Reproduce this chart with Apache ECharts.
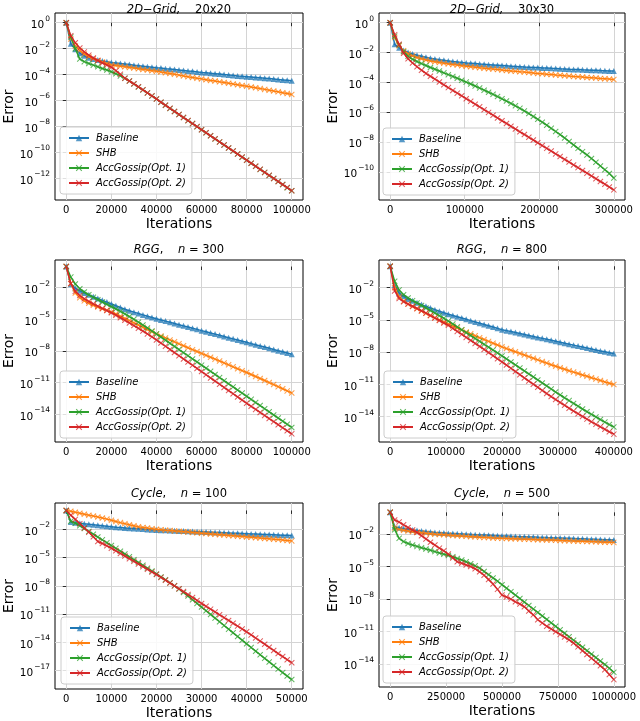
<!DOCTYPE html>
<html><head><meta charset="utf-8">
<script src="https://cdn.jsdelivr.net/npm/echarts@6/dist/echarts.min.js"></script>
<style>html,body{margin:0;padding:0;background:#fff}#c{width:640px;height:721px}</style>
</head><body><div id="c"></div>
<script>
// Values are log10(Error) at checkpoints i*step (51 checkpoints per run)
const seriesNames = ['Baseline', 'SHB', 'AccGossip(Opt. 1)', 'AccGossip(Opt. 2)'];
const iterStep = [2000, 6000, 2000, 8000, 1000, 20000];

// 2D-Grid 20x20
const g20_base = [0,-1.62,-2.05,-2.35,-2.55,-2.7,-2.8,-2.88,-2.95,-3.01,-3.07,-3.11,-3.15,-3.19,-3.23,-3.27,-3.31,-3.35,-3.39,-3.43,-3.47,-3.5,-3.54,-3.57,-3.61,-3.65,-3.68,-3.72,-3.75,-3.79,-3.83,-3.86,-3.9,-3.93,-3.96,-4.0,-4.03,-4.06,-4.1,-4.13,-4.16,-4.19,-4.22,-4.25,-4.28,-4.31,-4.34,-4.38,-4.41,-4.44,-4.47];
const g20_shb = [0,-1.25,-1.8,-2.15,-2.42,-2.62,-2.78,-2.91,-3.03,-3.14,-3.25,-3.3,-3.35,-3.4,-3.45,-3.5,-3.55,-3.6,-3.65,-3.7,-3.75,-3.8,-3.86,-3.92,-3.98,-4.04,-4.1,-4.16,-4.22,-4.28,-4.33,-4.39,-4.45,-4.5,-4.56,-4.61,-4.67,-4.73,-4.78,-4.84,-4.89,-4.95,-5.01,-5.08,-5.14,-5.2,-5.27,-5.33,-5.4,-5.46,-5.53];
const g20_opt1 = [0,-1.1,-2.0,-2.8,-3.0,-3.14,-3.27,-3.4,-3.53,-3.65,-3.78,-3.93,-4.1,-4.29,-4.5,-4.72,-4.95,-5.18,-5.41,-5.65,-5.88,-6.14,-6.37,-6.61,-6.84,-7.08,-7.31,-7.55,-7.78,-8.02,-8.25,-8.49,-8.72,-8.96,-9.19,-9.43,-9.66,-9.9,-10.13,-10.37,-10.6,-10.84,-11.07,-11.31,-11.54,-11.78,-12.01,-12.25,-12.48,-12.72,-12.96];
const g20_opt2 = [0,-1.0,-1.55,-1.95,-2.25,-2.5,-2.72,-2.92,-3.1,-3.27,-3.43,-3.7,-3.98,-4.28,-4.5,-4.71,-4.94,-5.17,-5.41,-5.64,-5.88,-6.13,-6.37,-6.6,-6.84,-7.07,-7.31,-7.54,-7.78,-8.01,-8.25,-8.48,-8.72,-8.95,-9.19,-9.42,-9.66,-9.89,-10.13,-10.36,-10.6,-10.83,-11.07,-11.3,-11.54,-11.77,-12.01,-12.24,-12.48,-12.71,-12.95];

// 2D-Grid 30x30
const g30_base = [0,-1.45,-1.68,-1.86,-2.0,-2.1,-2.18,-2.25,-2.32,-2.38,-2.43,-2.48,-2.52,-2.56,-2.6,-2.63,-2.66,-2.7,-2.72,-2.74,-2.77,-2.79,-2.81,-2.83,-2.85,-2.87,-2.89,-2.91,-2.93,-2.95,-2.97,-2.98,-3.0,-3.01,-3.03,-3.04,-3.06,-3.07,-3.09,-3.1,-3.12,-3.13,-3.14,-3.16,-3.17,-3.18,-3.19,-3.21,-3.22,-3.23,-3.24];
const g30_shb = [0,-1.0,-1.55,-1.88,-2.08,-2.22,-2.33,-2.42,-2.5,-2.56,-2.62,-2.67,-2.72,-2.76,-2.8,-2.84,-2.88,-2.92,-2.95,-2.98,-3.02,-3.05,-3.08,-3.11,-3.14,-3.17,-3.2,-3.23,-3.26,-3.29,-3.31,-3.34,-3.37,-3.4,-3.42,-3.45,-3.47,-3.5,-3.52,-3.55,-3.57,-3.6,-3.62,-3.64,-3.67,-3.69,-3.71,-3.74,-3.76,-3.78,-3.81];
const g30_opt1 = [0,-0.9,-1.5,-1.95,-2.25,-2.45,-2.6,-2.74,-2.87,-3.0,-3.12,-3.24,-3.36,-3.48,-3.6,-3.72,-3.85,-3.98,-4.11,-4.24,-4.38,-4.52,-4.66,-4.8,-4.95,-5.1,-5.25,-5.41,-5.57,-5.74,-5.91,-6.09,-6.28,-6.47,-6.67,-6.87,-7.08,-7.29,-7.5,-7.72,-7.96,-8.19,-8.42,-8.64,-8.86,-9.1,-9.35,-9.6,-9.85,-10.1,-10.4];
const g30_opt2 = [0,-0.8,-1.45,-2.05,-2.42,-2.7,-2.95,-3.18,-3.4,-3.59,-3.78,-3.97,-4.16,-4.35,-4.54,-4.72,-4.9,-5.09,-5.27,-5.46,-5.64,-5.83,-6.01,-6.2,-6.38,-6.57,-6.75,-6.94,-7.12,-7.31,-7.49,-7.68,-7.86,-8.05,-8.23,-8.42,-8.6,-8.79,-8.97,-9.16,-9.34,-9.53,-9.71,-9.9,-10.08,-10.27,-10.45,-10.64,-10.82,-11.01,-11.2];

// RGG n=300
const r300_base = [0,-1.68,-2.05,-2.3,-2.5,-2.68,-2.85,-3.02,-3.2,-3.37,-3.55,-3.72,-3.88,-4.04,-4.18,-4.32,-4.45,-4.58,-4.7,-4.83,-4.95,-5.06,-5.17,-5.28,-5.4,-5.51,-5.62,-5.73,-5.84,-5.95,-6.07,-6.18,-6.29,-6.4,-6.51,-6.62,-6.74,-6.85,-6.96,-7.07,-7.18,-7.3,-7.41,-7.52,-7.63,-7.74,-7.85,-7.97,-8.08,-8.19,-8.3];
const r300_shb = [0,-1.6,-2.5,-2.95,-3.25,-3.48,-3.67,-3.84,-4.0,-4.15,-4.3,-4.5,-4.7,-4.91,-5.12,-5.33,-5.54,-5.75,-5.96,-6.17,-6.38,-6.57,-6.76,-6.95,-7.13,-7.32,-7.5,-7.69,-7.87,-8.05,-8.23,-8.41,-8.59,-8.77,-8.95,-9.13,-9.31,-9.5,-9.68,-9.86,-10.04,-10.23,-10.42,-10.61,-10.8,-10.99,-11.18,-11.38,-11.58,-11.78,-11.98];
const r300_opt1 = [0,-1.0,-1.65,-2.1,-2.42,-2.68,-2.92,-3.14,-3.36,-3.58,-3.8,-4.02,-4.25,-4.49,-4.74,-5.0,-5.27,-5.54,-5.82,-6.1,-6.39,-6.68,-6.98,-7.27,-7.57,-7.86,-8.16,-8.45,-8.75,-9.04,-9.34,-9.63,-9.93,-10.22,-10.52,-10.81,-11.11,-11.4,-11.7,-11.99,-12.29,-12.58,-12.88,-13.17,-13.47,-13.76,-14.06,-14.35,-14.65,-14.94,-15.24];
const r300_opt2 = [0,-1.6,-2.35,-2.75,-3.05,-3.3,-3.53,-3.75,-3.96,-4.17,-4.38,-4.61,-4.85,-5.09,-5.34,-5.59,-5.85,-6.11,-6.38,-6.66,-6.95,-7.25,-7.55,-7.85,-8.15,-8.45,-8.75,-9.05,-9.35,-9.65,-9.95,-10.25,-10.55,-10.85,-11.15,-11.45,-11.75,-12.05,-12.35,-12.65,-12.95,-13.24,-13.53,-13.82,-14.11,-14.4,-14.69,-14.98,-15.27,-15.56,-15.85];

// RGG n=800
const r800_base = [0,-1.75,-2.5,-2.8,-3.05,-3.22,-3.4,-3.57,-3.73,-3.89,-4.04,-4.19,-4.33,-4.46,-4.58,-4.7,-4.82,-4.94,-5.06,-5.18,-5.3,-5.42,-5.54,-5.66,-5.78,-5.9,-5.99,-6.08,-6.17,-6.26,-6.35,-6.44,-6.53,-6.62,-6.71,-6.8,-6.89,-6.98,-7.07,-7.16,-7.25,-7.34,-7.43,-7.52,-7.61,-7.7,-7.79,-7.88,-7.96,-8.04,-8.12];
const r800_shb = [0,-2.0,-2.85,-3.25,-3.52,-3.75,-3.96,-4.17,-4.38,-4.59,-4.8,-4.99,-5.18,-5.37,-5.56,-5.75,-5.93,-6.11,-6.29,-6.47,-6.65,-6.82,-6.99,-7.16,-7.33,-7.5,-7.66,-7.81,-7.96,-8.11,-8.26,-8.41,-8.56,-8.71,-8.86,-9.01,-9.16,-9.3,-9.44,-9.58,-9.72,-9.85,-9.98,-10.11,-10.24,-10.37,-10.5,-10.63,-10.76,-10.88,-11.0];
const r800_opt1 = [0,-1.4,-2.2,-2.65,-2.95,-3.2,-3.42,-3.65,-3.88,-4.12,-4.36,-4.6,-4.84,-5.1,-5.37,-5.64,-5.91,-6.18,-6.45,-6.72,-6.99,-7.26,-7.53,-7.8,-8.07,-8.34,-8.62,-8.9,-9.18,-9.46,-9.74,-10.02,-10.3,-10.58,-10.86,-11.14,-11.42,-11.7,-11.97,-12.24,-12.5,-12.76,-13.02,-13.28,-13.53,-13.78,-14.02,-14.26,-14.5,-14.73,-14.95];
const r800_opt2 = [0,-2.3,-3.0,-3.3,-3.52,-3.72,-3.92,-4.14,-4.36,-4.59,-4.82,-5.05,-5.28,-5.5,-5.78,-6.06,-6.34,-6.62,-6.9,-7.18,-7.46,-7.74,-8.03,-8.32,-8.61,-8.9,-9.19,-9.49,-9.79,-10.09,-10.39,-10.68,-10.97,-11.26,-11.55,-11.84,-12.12,-12.4,-12.67,-12.94,-13.21,-13.47,-13.72,-13.97,-14.22,-14.47,-14.71,-14.94,-15.17,-15.4,-15.62];

// Cycle n=100
const c100_base = [0,-1.22,-1.3,-1.36,-1.42,-1.47,-1.52,-1.57,-1.62,-1.67,-1.72,-1.77,-1.81,-1.85,-1.89,-1.92,-1.95,-1.98,-2.01,-2.04,-2.07,-2.09,-2.11,-2.13,-2.15,-2.17,-2.19,-2.21,-2.23,-2.25,-2.27,-2.29,-2.31,-2.33,-2.35,-2.37,-2.39,-2.41,-2.43,-2.45,-2.47,-2.49,-2.51,-2.53,-2.55,-2.56,-2.58,-2.6,-2.62,-2.63,-2.65];
const c100_shb = [0,-0.08,-0.2,-0.3,-0.4,-0.5,-0.6,-0.7,-0.8,-0.92,-1.05,-1.17,-1.29,-1.4,-1.52,-1.62,-1.72,-1.8,-1.87,-1.93,-1.99,-2.04,-2.09,-2.13,-2.17,-2.21,-2.25,-2.29,-2.33,-2.37,-2.41,-2.45,-2.49,-2.53,-2.57,-2.61,-2.65,-2.69,-2.73,-2.77,-2.81,-2.85,-2.89,-2.93,-2.97,-3.01,-3.05,-3.09,-3.13,-3.18,-3.23];
const c100_opt1 = [0,-1.15,-1.35,-1.62,-1.92,-2.22,-2.52,-2.82,-3.12,-3.42,-3.72,-4.02,-4.32,-4.62,-4.92,-5.22,-5.52,-5.82,-6.12,-6.43,-6.74,-7.05,-7.36,-7.68,-8.0,-8.33,-8.7,-9.08,-9.47,-9.86,-10.25,-10.64,-11.03,-11.42,-11.81,-12.2,-12.59,-12.98,-13.37,-13.76,-14.15,-14.54,-14.93,-15.31,-15.69,-16.07,-16.45,-16.83,-17.2,-17.57,-17.94];
const c100_opt2 = [0,-0.5,-0.95,-1.4,-1.85,-2.3,-2.8,-3.3,-3.5,-3.75,-4.0,-4.28,-4.56,-4.84,-5.12,-5.4,-5.68,-5.96,-6.24,-6.52,-6.8,-7.1,-7.4,-7.7,-8.0,-8.3,-8.6,-8.92,-9.23,-9.55,-9.87,-10.17,-10.47,-10.77,-11.07,-11.37,-11.67,-11.97,-12.27,-12.57,-12.87,-13.2,-13.53,-13.86,-14.19,-14.52,-14.85,-15.18,-15.5,-15.83,-16.15];

// Cycle n=500
const c500_base = [0,-1.32,-1.42,-1.5,-1.57,-1.63,-1.68,-1.73,-1.77,-1.81,-1.85,-1.88,-1.91,-1.94,-1.96,-1.98,-2.0,-2.02,-2.04,-2.06,-2.08,-2.1,-2.12,-2.14,-2.16,-2.18,-2.19,-2.21,-2.22,-2.24,-2.25,-2.27,-2.28,-2.3,-2.31,-2.33,-2.34,-2.36,-2.37,-2.39,-2.4,-2.41,-2.43,-2.44,-2.46,-2.47,-2.49,-2.5,-2.52,-2.53,-2.55];
const c500_shb = [0,-1.45,-1.57,-1.65,-1.72,-1.78,-1.83,-1.88,-1.93,-1.97,-2.01,-2.04,-2.07,-2.1,-2.13,-2.16,-2.19,-2.21,-2.24,-2.26,-2.29,-2.31,-2.33,-2.36,-2.38,-2.4,-2.41,-2.43,-2.44,-2.46,-2.47,-2.49,-2.5,-2.52,-2.53,-2.55,-2.56,-2.58,-2.6,-2.61,-2.63,-2.64,-2.66,-2.67,-2.69,-2.7,-2.72,-2.73,-2.75,-2.76,-2.77];
const c500_opt1 = [0,-1.6,-2.4,-2.7,-2.87,-3.02,-3.14,-3.26,-3.38,-3.5,-3.62,-3.74,-3.86,-3.98,-4.1,-4.25,-4.4,-4.56,-4.74,-4.93,-5.15,-5.45,-5.75,-6.05,-6.35,-6.67,-6.99,-7.31,-7.63,-7.95,-8.27,-8.59,-8.91,-9.23,-9.55,-9.87,-10.19,-10.51,-10.83,-11.15,-11.47,-11.79,-12.11,-12.43,-12.75,-13.07,-13.39,-13.71,-14.03,-14.37,-14.75];
const c500_opt2 = [0,-0.71,-0.9,-1.15,-1.4,-1.63,-1.85,-2.15,-2.45,-2.75,-3.02,-3.3,-3.55,-3.85,-4.2,-4.55,-4.7,-4.85,-5.0,-5.2,-5.48,-5.8,-6.2,-6.6,-7.1,-7.63,-7.8,-8.0,-8.25,-8.45,-8.71,-9.1,-9.45,-9.9,-10.2,-10.5,-10.75,-11.0,-11.25,-11.5,-11.75,-12.05,-12.4,-12.75,-13.1,-13.45,-13.8,-14.15,-14.5,-14.95,-15.42];

// Titles, tick values
const titleParts = [
  ['2D−Grid', '    20x20'], ['2D−Grid', '    30x30'],
  ['RGG', 'n', ' = 300'], ['RGG', 'n', ' = 800'],
  ['Cycle', 'n', ' = 100'], ['Cycle', 'n', ' = 500']
];
const xTicks = [
  [0,20000,40000,60000,80000,100000],
  [0,100000,200000,300000],
  [0,20000,40000,60000,80000,100000],
  [0,100000,200000,300000,400000],
  [0,10000,20000,30000,40000,50000],
  [0,250000,500000,750000,1000000]
];
const yTicks = [
  [0,-2,-4,-6,-8,-10,-12],
  [0,-2,-4,-6,-8,-10],
  [-2,-5,-8,-11,-14],
  [-2,-5,-8,-11,-14],
  [-2,-5,-8,-11,-14,-17],
  [-2,-5,-8,-11,-14]
];
const panelData = [
  [g20_base, g20_shb, g20_opt1, g20_opt2],
  [g30_base, g30_shb, g30_opt1, g30_opt2],
  [r300_base, r300_shb, r300_opt1, r300_opt2],
  [r800_base, r800_shb, r800_opt1, r800_opt2],
  [c100_base, c100_shb, c100_opt1, c100_opt2],
  [c500_base, c500_shb, c500_opt1, c500_opt2]
];

// ---- layout / style ----
const FONT = 'DejaVu Sans';
const colors = ['#1f77b4', '#ff7f0e', '#2ca02c', '#d62728'];
const XSYM = 'path://M0,1.2L1.2,0L5,3.8L8.8,0L10,1.2L6.2,5L10,8.8L8.8,10L5,6.2L1.2,10L0,8.8L3.8,5Z';
const symbols = ['triangle', XSYM, XSYM, XSYM];
const grids = [
  {left: 55, top: 13, width: 248, height: 187},
  {left: 379, top: 13, width: 246, height: 187},
  {left: 55, top: 260, width: 248, height: 182},
  {left: 379, top: 260, width: 246, height: 182},
  {left: 55, top: 503, width: 248, height: 186},
  {left: 379, top: 503, width: 246, height: 184}
];
const titleTop = [4, 4, 244, 244, 488, 488];
const xRange = [[-5000,105000],[-15000,315000],[-5000,105000],[-20000,420000],[-2500,52500],[-50000,1050000]];
const yRange = [[-13.67,0.75],[-11.88,0.65],[-16.62,0.62],[-16.35,0.58],[-18.94,0.79],[-16.1,0.86]];
const legendPos = [[60,127],[383,128],[60,371],[384,371],[61,617],[383,616]];

function supLabel(v) {
  const e = v === 0 ? '0' : '−' + Math.abs(v);
  return '{b|10}{s|' + e + '}';
}

const option = {
  animation: false,
  backgroundColor: '#fff',
  textStyle: {fontFamily: FONT, color: '#000'},
  grid: grids.map(g => Object.assign({show: true, borderColor: '#000', borderWidth: 1, backgroundColor: 'transparent'}, g)),
  title: titleParts.map((p, k) => {
    let text;
    if (p.length === 2) text = '{i|' + p[0] + ',}{n|' + p[1] + '}';
    else text = '{i|' + p[0] + '}{n|,    }{i|' + p[1] + '}{n|' + p[2] + '}';
    return {
      text: text,
      left: grids[k].left + grids[k].width / 2,
      top: titleTop[k],
      textAlign: 'center',
      padding: 0,
      textStyle: {
        fontWeight: 'normal', fontSize: 11.5, color: '#000', lineHeight: 13,
        rich: {
          i: {fontStyle: 'italic', fontSize: 11.5, fontFamily: FONT, color: '#000', lineHeight: 13},
          n: {fontSize: 11.5, fontFamily: FONT, color: '#000', lineHeight: 13}
        }
      }
    };
  }),
  legend: legendPos.map(p => ({
    data: seriesNames,
    orient: 'vertical',
    left: p[0], top: p[1],
    itemWidth: 20, itemHeight: 8, itemGap: 3,
    padding: [5, 6, 5, 8],
    backgroundColor: 'rgba(255,255,255,0.85)',
    borderColor: '#cccccc', borderWidth: 1, borderRadius: 3,
    selectedMode: false,
    textStyle: {fontFamily: FONT, fontSize: 10, fontStyle: 'italic', color: '#000', lineHeight: 12, padding: [0,0,0,2]}
  })),
  xAxis: grids.map((g, k) => ({
    type: 'value', gridIndex: k,
    min: xRange[k][0], max: xRange[k][1],
    name: 'Iterations', nameLocation: 'middle', nameGap: 17,
    nameTextStyle: {fontSize: 14, fontFamily: FONT, color: '#000'},
    axisLine: {show: false},
    axisTick: {show: true, length: 3.5, lineStyle: {color: '#000', width: 0.8}, customValues: xTicks[k]},
    axisLabel: {customValues: xTicks[k], fontSize: 10, color: '#000', fontFamily: FONT, margin: 5,
      formatter: v => String(v)},
    splitLine: {show: true, lineStyle: {color: '#d4d4d4', width: 1}}
  })),
  yAxis: grids.map((g, k) => ({
    type: 'value', gridIndex: k,
    min: yRange[k][0], max: yRange[k][1],
    name: 'Error', nameLocation: 'middle', nameGap: 38, nameRotate: 90,
    nameTextStyle: {fontSize: 14, fontFamily: FONT, color: '#000'},
    axisLine: {show: false},
    axisTick: {show: true, length: 3.5, lineStyle: {color: '#000', width: 0.8}, customValues: yTicks[k]},
    axisLabel: {customValues: yTicks[k], margin: 5, formatter: supLabel,
      rich: {
        b: {fontSize: 10.5, fontFamily: FONT, color: '#000', lineHeight: 16, verticalAlign: 'bottom'},
        s: {fontSize: 7.5, fontFamily: FONT, color: '#000', lineHeight: 16, verticalAlign: 'top', padding: [0,0,0,1]}
      }},
    splitLine: {show: true, lineStyle: {color: '#d4d4d4', width: 1}}
  })),
  series: []
};

panelData.forEach((arrs, k) => {
  arrs.forEach((arr, s) => {
    option.series.push({
      type: 'line', name: seriesNames[s],
      xAxisIndex: k, yAxisIndex: k,
      data: arr.map((v, i) => [i * iterStep[k], v]),
      symbol: symbols[s], symbolSize: 6,
      showAllSymbol: true, clip: true,
      z: 2 + s,
      lineStyle: {color: colors[s], width: 1.5},
      itemStyle: {color: colors[s], opacity: 0.75}
    });
  });
});

const chart = echarts.init(document.getElementById('c'), null, {renderer: 'canvas'});
chart.setOption(option);
</script>
</body></html>
